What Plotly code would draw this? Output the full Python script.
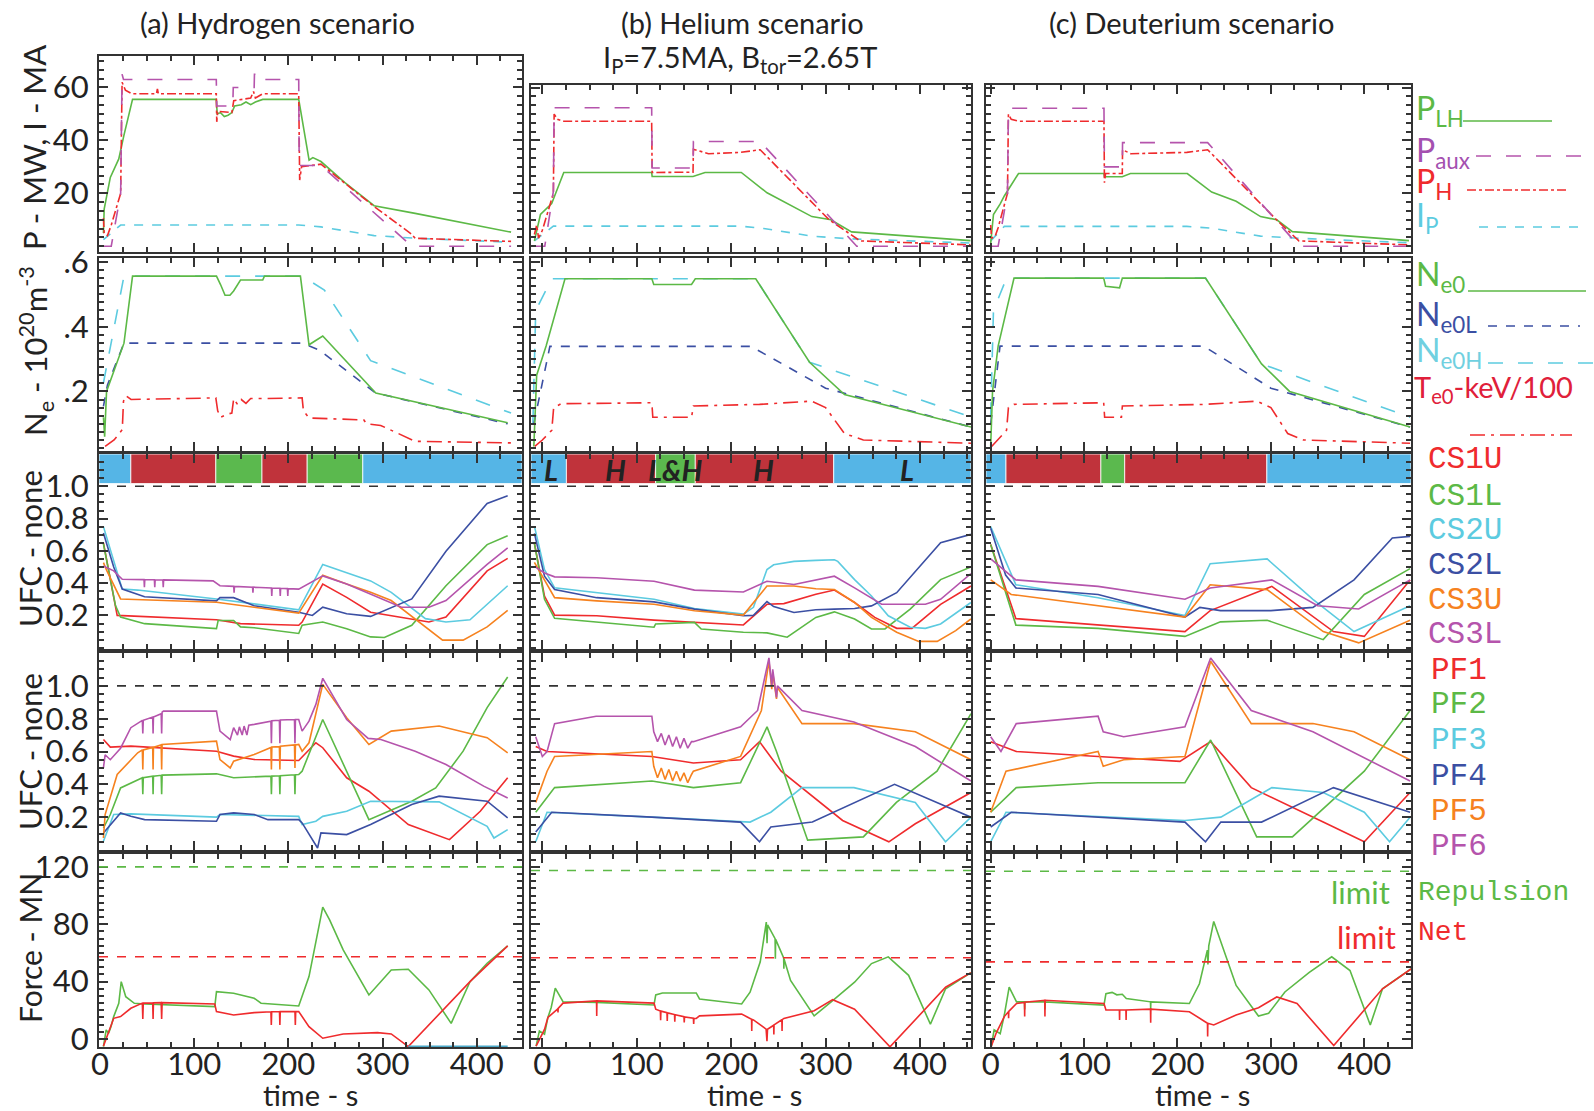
import plotly.graph_objects as go

# ---------------- DATA (time s, value) ----------------
# Row 1: power / current
A_PLH = [(3.7,5),(4.5,14),(11,26),(20,33),(25.5,42),(34.6,55.5),(123.5,55.5),(124.5,50),(128,50.5),(132,49),(136,49.5),(140,50.5),(143,53),(150,53.5),(155,54.5),(160,53.5),(165,54.5),(172.8,55.5),(211,55.5),(216,45),(222,32.5),(226,33.5),(234.6,32),(260,24),(291,15.3),(334.6,12.4),(436.4,5.3)]
A_PAUX = [(3.7,0),(12,0),(22,20),(23.5,65),(25,63),(123.5,63),(124,53),(141,53),(141.5,60),(163.7,60),(164,65),(172.8,65),(173,63),(211,63),(211.5,30.5),(234.6,30.5),(331,0),(436.4,0)]
A_PH = [(3.7,10.6),(4.5,5),(8,4),(12,8),(22,20),(23.5,62),(27,59),(34,57.6),(60,57.6),(61,59.5),(62,57.6),(123.5,57.6),(124,47),(125,51),(140,50.5),(142,55),(160,56),(163,58.5),(165,56),(172.8,57.6),(211,57.6),(212,25),(214,30),(222,30.5),(234.6,31),(291,15),(331,4.5),(334.6,3),(436.4,1.8)]
A_IP = [(3.7,2.5),(22,8),(211,8),(234.6,7.3),(291,4),(334.6,3),(436.4,1.5)]

B_PLH = [(-8.4,2),(-2,12),(9.9,16.1),(22.7,27.9),(115.8,27.9),(116.3,26.4),(159.6,26.4),(172.3,27.9),(210.7,27.9),(238,20.2),(285.5,11.2),(305.6,10),(327.5,5.4),(453.4,2.1)]
B_PAUX = [(-8.4,0),(2.6,0),(11.7,20.8),(12.5,52.4),(115.8,52.4),(116.3,29.6),(159.6,29.6),(160,39.6),(230.7,39.6),(333,0),(453.4,0)]
B_PH = [(-8.4,4.4),(-6,8),(-4,3),(0,6),(11.7,20),(12.5,50),(16,48),(22.7,47.3),(115.8,47.3),(116.3,27.9),(159.6,28),(160,36.7),(176,35),(210,35.5),(230.7,36.5),(303.7,10),(336.6,2),(453.4,0.5)]
B_IP = [(-8.4,2),(11.7,7.6),(210,7.6),(234.4,6.7),(285.5,3.8),(325.6,2.8),(453.4,1.2)]

C_PLH = [(0,1),(3,12),(10.2,16),(14.6,19),(29.8,27.5),(121.3,27.5),(121.8,26.3),(140.9,26.3),(149.6,27.5),(210.5,27.5),(236.6,20.5),(262.8,17),(288.9,11.2),(306.3,10),(323,5.5),(447.8,2.1)]
C_PAUX = [(0,0),(8,0),(18,20),(19,52.2),(121.3,52.2),(121.8,30),(140.9,30),(141.2,39.2),(232.3,39.2),(330,0),(447.8,0)]
C_PH = [(0,8),(1,3),(5,4),(8,7),(18,20),(19,50),(22,48),(29.8,47.3),(121.3,47.3),(121.8,24),(123,27.5),(140.9,27.5),(141.2,36.5),(150,35),(210,35.5),(232.3,36.5),(306,10),(330,2),(447.8,0.5)]
C_IP = [(0,2),(14.6,7.5),(210,7.5),(236.6,6.8),(288.9,3.8),(330,3),(447.8,1.3)]

# Row 2: density / temperature
A_NE0 = [(3.7,0.12),(5,0.06),(7,0.2),(25.5,0.349),(34.6,0.556),(123.7,0.556),(128,0.53),(132.8,0.497),(138,0.497),(141.9,0.51),(149.2,0.544),(172.8,0.544),(174.6,0.556),(212.8,0.556),(221.9,0.344),(236.5,0.371),(292.8,0.195),(432.8,0.103)]
A_NE0L = [(3.7,0.154),(8,0.22),(25.5,0.349),(214.6,0.349),(232.8,0.328),(292.8,0.195),(432.8,0.1)]
A_NE0H = [(3.7,0.226),(25.5,0.556),(214.6,0.556),(238.2,0.513),(287.3,0.295),(436.4,0.133)]
A_TE0 = [(5.5,0.03),(15,0.05),(23.7,0.082),(25,0.17),(27.4,0.187),(33,0.175),(123,0.18),(125,0.14),(128,0.12),(135,0.13),(140,0.133),(142,0.178),(146,0.16),(150,0.175),(155,0.163),(160,0.178),(172,0.178),(214.6,0.18),(216,0.14),(222,0.118),(280,0.112),(283,0.1),(298,0.095),(334.6,0.046),(436.4,0.041)]

B_NE0 = [(-9,0.03),(-6,0.25),(4,0.34),(24,0.548),(116,0.548),(118,0.53),(158,0.53),(162,0.548),(226,0.548),(283,0.29),(320,0.19),(454,0.09)]
B_NE0L = [(-9,0.1),(8,0.339),(221,0.339),(300,0.21),(454,0.09)]
B_NE0H = [(-10,0.1),(-7,0.45),(10,0.548),(226,0.548),(283,0.29),(454,0.121)]
B_TE0 = [(-8,0.03),(0,0.05),(10,0.08),(12,0.15),(20,0.162),(116,0.165),(117,0.12),(158,0.12),(160,0.155),(230,0.16),(285,0.17),(300,0.15),(320,0.07),(340,0.05),(454,0.04)]

C_NE0 = [(0,0.03),(2,0.2),(8,0.34),(25,0.55),(121,0.55),(123,0.525),(138,0.52),(141,0.55),(230,0.55),(290,0.285),(320,0.2),(449,0.09)]
C_NE0L = [(0,0.1),(10,0.34),(228,0.34),(300,0.21),(449,0.09)]
C_NE0H = [(0,0.12),(3,0.45),(17,0.55),(230,0.55),(290,0.285),(449,0.12)]
C_TE0 = [(1,0.03),(10,0.06),(17,0.08),(19,0.15),(25,0.16),(121,0.165),(122,0.12),(140,0.12),(141,0.155),(230,0.16),(285,0.17),(300,0.15),(318,0.07),(335,0.05),(449,0.04)]

# Row 3: CS coils UFC
A_CS1U = [(3.7,0.649),(18.3,0.2),(123.7,0.173),(149.2,0.149),(211,0.139),(214.6,0.159),(236.5,0.394),(261.9,0.312),(287.3,0.22),(349.2,0.159),(367.3,0.19),(411,0.476),(432.8,0.553)]
A_CS1L = [(3.7,0.643),(16.5,0.261),(21.9,0.19),(47.4,0.149),(123.7,0.118),(125.5,0.169),(141.9,0.169),(149.2,0.129),(163.7,0.124),(211,0.088),(214.6,0.139),(236.5,0.159),(261.9,0.118),(287.3,0.067),(301.9,0.063),(331,0.139),(367.3,0.384),(411,0.639),(432.8,0.694)]
A_CS2U = [(3.7,0.75),(23.7,0.363),(40.1,0.357),(123.7,0.302),(211,0.235),(236.5,0.516),(261.9,0.465),(287.3,0.414),(309.2,0.343),(345.5,0.18),(367.3,0.159),(392.8,0.173),(432.8,0.384)]
A_CS2L = [(3.7,0.71),(14.6,0.5),(23.7,0.363),(47.4,0.316),(123.7,0.29),(127.4,0.31),(141.9,0.31),(163.7,0.26),(211,0.22),(225.5,0.2),(236.5,0.251),(261.9,0.21),(287.3,0.194),(331,0.302),(367.3,0.598),(411,0.894),(432.8,0.941)]
A_CS3U = [(3.7,0.527),(7.4,0.476),(21.9,0.302),(123.7,0.282),(211,0.214),(236.5,0.449),(261.9,0.394),(287.3,0.343),(309.2,0.292),(334.6,0.18),(363.7,0.047),(385.5,0.047),(411,0.129),(432.8,0.231)]
A_CS3L = [(3.7,0.506),(14.6,0.476),(23.7,0.424),(46.8,0.422),(47.2,0.375),(47.6,0.422),(57.8,0.421),(58.2,0.375),(58.6,0.421),(66.8,0.42),(67.2,0.375),(67.6,0.42),(120.1,0.414),(127.4,0.384),(142,0.38),(142.4,0.34),(142.8,0.38),(162,0.375),(162.4,0.34),(162.8,0.375),(182,0.37),(182.4,0.32),(182.8,0.37),(191,0.368),(191.4,0.32),(191.8,0.368),(199,0.366),(199.4,0.32),(199.8,0.366),(211,0.363),(236.5,0.445),(261.9,0.394),(287.3,0.333),(320,0.251),(349.2,0.251),(367.3,0.292),(411,0.516),(432.8,0.618)]

B_CS1U = [(-8.4,0.647),(2.3,0.32),(13,0.202),(57.6,0.198),(118.3,0.171),(161.1,0.157),(212.9,0.141),(237.9,0.269),(255.8,0.273),(289.7,0.331),(309.3,0.357),(330.7,0.28),(352.1,0.188),(375.3,0.12),(391.4,0.12),(421.8,0.269),(453.9,0.382)]
B_CS1L = [(-8.4,0.647),(2.3,0.3),(13,0.182),(57.6,0.157),(118.3,0.127),(120,0.147),(161.1,0.157),(168.3,0.116),(212.9,0.096),(237.9,0.092),(259.3,0.065),(289.7,0.188),(309.3,0.222),(330.7,0.178),(348.6,0.116),(362.9,0.116),(389.6,0.239),(421.8,0.422),(453.9,0.5)]
B_CS2U = [(-8.4,0.753),(2.3,0.484),(13,0.371),(57.6,0.341),(118.3,0.3),(161.1,0.243),(212.9,0.208),(223.6,0.25),(237.9,0.484),(245,0.514),(266.5,0.535),(289.7,0.541),(309.3,0.545),(312.9,0.535),(330.7,0.422),(348.6,0.32),(366.4,0.198),(389.6,0.127),(405.7,0.12),(421.8,0.147),(453.9,0.28)]
B_CS2L = [(-8.4,0.708),(2.3,0.443),(13,0.361),(57.6,0.31),(118.3,0.284),(161.1,0.239),(212.9,0.198),(223.6,0.2),(237.9,0.286),(245,0.255),(266.5,0.218),(289.7,0.235),(309.3,0.239),(330.7,0.243),(348.6,0.259),(375.3,0.341),(421.8,0.651),(453.9,0.702)]
B_CS3U = [(-8.4,0.529),(13,0.31),(57.6,0.29),(118.3,0.269),(161.1,0.229),(212.9,0.202),(237.9,0.382),(266.5,0.382),(289.7,0.365),(309.3,0.361),(330.7,0.28),(348.6,0.188),(375.3,0.096),(398.6,0.039),(418.2,0.039),(437.8,0.106),(453.9,0.178)]
B_CS3L = [(-8.4,0.504),(2.3,0.463),(13,0.439),(57.6,0.433),(118.3,0.412),(161.1,0.357),(212.9,0.345),(237.9,0.412),(266.5,0.392),(289.7,0.418),(309.3,0.443),(330.7,0.371),(359.3,0.269),(405.7,0.269),(421.8,0.3),(453.9,0.459)]

C_CS1U = [(0,0.64),(27,0.18),(208,0.1),(235,0.23),(301,0.38),(367,0.1),(400,0.07),(449,0.42)]
C_CS1L = [(0,0.64),(27,0.14),(115,0.12),(208,0.07),(246,0.16),(296,0.17),(356,0.05),(400,0.33),(449,0.49)]
C_CS2U = [(0,0.75),(27,0.39),(115,0.31),(208,0.2),(235,0.52),(296,0.55),(345,0.3),(389,0.1),(449,0.26)]
C_CS2L = [(0,0.74),(16,0.45),(27,0.37),(115,0.33),(208,0.19),(224,0.25),(246,0.23),(300,0.23),(345,0.25),(389,0.42),(430,0.68),(449,0.69)]
C_CS3U = [(0,0.42),(22,0.33),(208,0.19),(235,0.39),(296,0.36),(356,0.1),(394,0.03),(449,0.17)]
C_CS3L = [(0,0.55),(27,0.42),(115,0.38),(208,0.3),(235,0.37),(301,0.42),(350,0.26),(394,0.24),(449,0.42)]

# Row 4: PF coils UFC
A_PF1 = [(3.7,0.673),(11,0.627),(32.8,0.633),(123.7,0.602),(141.9,0.572),(163.7,0.551),(211,0.545),(229.2,0.653),(236.5,0.623),(261.9,0.44),(285.5,0.358),(327.3,0.155),(371,0.063),(403.7,0.236),(432.8,0.44)]
A_PF2 = [(3.7,0.134),(11,0.216),(21.9,0.378),(45,0.44),(45.5,0.34),(46,0.44),(56,0.45),(56.4,0.34),(56.8,0.45),(65,0.455),(65.5,0.34),(66,0.456),(123.7,0.464),(141.9,0.44),(181.5,0.45),(182,0.34),(182.5,0.45),(190.5,0.452),(191,0.34),(191.5,0.452),(206.5,0.458),(207,0.34),(207.5,0.458),(211,0.46),(214.6,0.48),(236.5,0.795),(285.5,0.185),(331,0.297),(356.4,0.378),(385.5,0.602),(411,0.867),(432.8,1.054)]
A_PF3 = [(3.7,0.053),(14.6,0.216),(32.8,0.22),(123.7,0.2),(127.4,0.216),(211,0.205),(214.6,0.155),(229.2,0.175),(236.5,0.205),(261.9,0.236),(287.3,0.297),(360,0.293),(411,0.144),(418.2,0.073),(432.8,0.124)]
A_PF4 = [(3.7,0.104),(21.9,0.226),(32.8,0.205),(47.4,0.185),(123.7,0.175),(127.4,0.216),(141.9,0.226),(163.7,0.216),(178.3,0.185),(211,0.185),(214.6,0.165),(231,0.012),(234.6,0.104),(261.9,0.094),(287.3,0.155),(331,0.277),(360,0.328),(411,0.297),(432.8,0.195)]
A_PF5 = [(3.7,0.073),(5.5,0.216),(18.3,0.46),(40.1,0.592),(45,0.61),(45.5,0.49),(46,0.61),(56,0.625),(56.4,0.49),(56.8,0.625),(65,0.64),(65.5,0.49),(66,0.643),(123.7,0.663),(127.4,0.551),(138.3,0.5),(141.9,0.541),(163.7,0.582),(181.5,0.625),(182,0.49),(182.5,0.627),(190.5,0.63),(191,0.49),(191.5,0.632),(206.5,0.64),(207,0.5),(207.5,0.64),(211,0.643),(214.6,0.602),(221.9,0.653),(236.5,1.009),(261.9,0.806),(285.5,0.643),(309.2,0.724),(360,0.755),(411,0.684),(432.8,0.592)]
A_PF6 = [(3.7,0.5),(5.5,0.58),(11,0.55),(21.9,0.62),(32.8,0.745),(45,0.79),(45.5,0.71),(46,0.79),(56,0.81),(56.4,0.71),(56.8,0.81),(65,0.83),(65.5,0.71),(66,0.84),(67.4,0.846),(123.7,0.846),(127.4,0.724),(138.3,0.673),(141.9,0.745),(146,0.70),(148,0.75),(151,0.70),(153,0.755),(156,0.70),(158,0.76),(163.7,0.765),(181.5,0.785),(182,0.65),(182.5,0.787),(190.5,0.79),(191,0.65),(191.5,0.792),(206.5,0.795),(207,0.65),(207.5,0.795),(211,0.795),(214.6,0.724),(221.9,0.785),(229.2,0.887),(236.5,1.046),(261.9,0.795),(284.7,0.68),(298.2,0.673),(334.6,0.602),(367.3,0.521),(407.3,0.389),(432.8,0.317)]

B_PF1 = [(-7,0.63),(5,0.6),(116,0.57),(160,0.53),(210,0.55),(230,0.66),(253,0.48),(318,0.18),(367,0.05),(395,0.16),(454,0.35)]
B_PF2 = [(-7,0.23),(13,0.38),(116,0.42),(160,0.38),(210,0.41),(238,0.75),(248,0.6),(281,0.06),(340,0.08),(375,0.29),(418,0.48),(454,0.83)]
B_PF3 = [(-7,0.05),(5,0.23),(116,0.2),(220,0.17),(242,0.23),(275,0.38),(330,0.38),(395,0.29),(427,0.05),(454,0.2)]
B_PF4 = [(-7,0.11),(10,0.23),(116,0.2),(210,0.17),(230,0.05),(242,0.14),(286,0.17),(373,0.4),(454,0.2)]
B_PF5 = [(-7,0.29),(5,0.48),(13,0.57),(116,0.6),(118,0.51),(122,0.44),(126,0.5),(130,0.43),(134,0.49),(138,0.42),(142,0.48),(146,0.42),(150,0.47),(154,0.41),(158,0.46),(160,0.48),(210,0.57),(232,0.85),(240,1.15),(243,0.98),(244,1.08),(248,0.92),(249,0.99),(275,0.77),(330,0.77),(395,0.72),(454,0.55)]
B_PF6 = [(-7,0.69),(0,0.57),(5,0.6),(13,0.77),(57,0.815),(116,0.815),(118,0.72),(122,0.66),(126,0.71),(130,0.64),(134,0.7),(138,0.63),(142,0.69),(146,0.62),(150,0.68),(154,0.62),(158,0.66),(160,0.66),(210,0.75),(228,0.85),(240,1.17),(243,1.0),(244,1.1),(248,0.93),(249,1.0),(275,0.85),(330,0.78),(395,0.63),(454,0.42)]

C_PF1 = [(0,0.66),(27.4,0.6),(115,0.57),(202.6,0.54),(235.5,0.66),(279,0.38),(356,0.17),(400,0.05),(449,0.35)]
C_PF2 = [(0,0.23),(27.4,0.38),(115,0.41),(208,0.41),(235.5,0.67),(284.8,0.08),(323,0.08),(400,0.48),(449,0.85)]
C_PF3 = [(0,0.05),(16.4,0.23),(208,0.18),(246.4,0.2),(301,0.38),(356,0.35),(400,0.23),(427,0.05),(449,0.2)]
C_PF4 = [(0,0.14),(22,0.23),(208,0.17),(230,0.05),(246.4,0.17),(290,0.17),(367,0.38),(449,0.23)]
C_PF5 = [(0,0.23),(16.4,0.48),(115,0.6),(120.5,0.51),(142.4,0.55),(208,0.57),(235.5,1.15),(279,0.77),(345,0.77),(389,0.72),(449,0.55)]
C_PF6 = [(0,0.69),(11,0.6),(27.4,0.77),(115,0.815),(120.5,0.72),(142.4,0.69),(208,0.75),(235.5,1.17),(279,0.85),(345,0.72),(449,0.42)]

# Row 5: forces (MN)
A_REP = [(3.7,-5.3),(6.6,6.3),(9.2,4),(11.7,8.6),(14.6,15.6),(20,24.9),(22.6,40),(27.4,29.5),(36.5,24.9),(47.4,24.4),(121.9,22.6),(123.7,33),(141.9,31.9),(163.7,28.4),(171,24.9),(211,23),(221.9,43.5),(236.5,91.9),(243.8,83),(258.2,62.1),(285.5,30.7),(309.2,48.1),(327.3,48.6),(349.2,34.2),(372.8,10.9),(392.8,40),(411,52.8),(432.8,64.9)]
A_NET = [(3.7,-5),(11,8.6),(14.6,14.4),(21.9,15.6),(32.8,21.4),(45,25),(45.5,14),(46,25),(56,25.2),(56.4,14),(56.8,25.2),(65,25.3),(65.5,14),(66,25.3),(121.9,24.4),(123.7,19.1),(141.9,16.7),(163.7,18.4),(181.5,19),(181.9,9.8),(182.3,19),(190.6,19.1),(191,9.8),(191.4,19.1),(207,19.1),(207.4,9.8),(207.8,19.1),(211,19.1),(221.9,8.6),(236.5,0.5),(258.2,3.5),(294.6,4.4),(309.2,3.5),(327.3,-5.3),(392.8,40),(432.8,64.9)]
A_BASE = [(327.3,-5.3),(432.8,-5.3)]
B_REP = [(-6.6,-5),(-3.1,5.6),(2.3,3.3),(5.9,15),(9.4,22),(13.7,35.4),(21.9,26),(57.6,25.5),(118.3,23.7),(120.1,30.7),(127.2,32.1),(163,32.1),(166.5,27.9),(211.1,24.4),(220,32.6),(230.8,53.8),(237.2,81.5),(238,66.7),(238.6,79.5),(246.5,70),(246.8,56),(247.1,69.5),(255.6,56.5),(255.8,49),(256,55.8),(262.9,40.8),(287.9,16.1),(307.5,26.7),(330.7,39.6),(348.6,52.6),(366.4,57.3),(387.9,44.4),(411,10.3),(427.1,35),(453.9,46.2)]
B_NET = [(-6.6,-5),(2.3,6.7),(5.9,15),(13.7,19.7),(16.4,21),(16.6,18.5),(16.8,21.3),(21.9,25),(57.4,26.6),(57.6,16),(57.8,26.6),(118.3,25),(120.1,20.8),(125,19.5),(125.3,13),(125.6,19.4),(132,18.3),(132.3,12.5),(132.6,18.2),(140,17),(140.3,12),(140.6,16.9),(150,15.5),(150.3,11.5),(150.6,15.4),(160,14.5),(160.3,10.5),(160.6,14.4),(163,14.3),(166.5,16.1),(211.1,17.3),(221.6,13.8),(221.8,5.6),(222,13.7),(223.6,13.3),(237,6.9),(237.9,-1.5),(238.5,6.8),(245,9.6),(245.2,3.2),(245.4,9.8),(253.7,13.4),(253.9,5.6),(254.1,13.5),(255.8,14.3),(287.9,19.7),(307.5,27.4),(330.7,20.8),(368.2,-5.5),(427.1,36.1),(453.9,46.2)]
C_REP = [(0.7,-5),(3.7,6.4),(10.2,3.7),(14.6,16.7),(19.8,36.2),(27.7,25.9),(36.2,25.9),(36.4,20.5),(36.6,25.9),(57.9,25.9),(58.1,20.5),(58.3,25.9),(121.3,23.6),(123.4,31.6),(130,32.5),(135,30.8),(140.9,31.2),(145.2,28.2),(171.1,25.9),(171.3,21),(171.5,25.9),(212.7,24.7),(223.5,38.5),(232,62),(232.6,52),(233.5,65),(238.8,82),(262.8,37.3),(286.7,16),(297.6,17.9),(315,32.8),(341.1,46.5),(365.1,57.3),(384.7,47.7),(406.4,9.8),(419.5,35),(450,48.8)]
C_NET = [(0.7,-5),(5.9,4.1),(14.6,15.6),(19,19),(19.2,14.5),(19.4,19.2),(27.7,24.7),(36.2,25.5),(36.4,15.6),(36.6,25.6),(57.9,27),(58.1,15.6),(58.3,27),(121.3,24.7),(123.4,20.2),(137.8,20.2),(138,13.3),(138.2,20.2),(144.8,20.2),(145,13.3),(145.2,20.2),(171.1,20.8),(171.3,11.4),(171.5,20.8),(212.7,19),(232.1,11),(232.3,1.8),(232.5,11),(238.8,9.8),(262.8,16.7),(286.7,21.8),(306.3,29.3),(328,24.7),(367.3,-4.6),(419.5,35),(450,48.8)]
REP_LIMIT = [120, 117.5, 117]
NET_LIMIT = [57.3, 56.6, 53.8]

# Operating-mode strips (start, end, mode)
A_MODES = [(-1,32.8,'L'),(32.8,123,'H'),(123,172,'LH'),(172,220,'H'),(220,279,'LH'),(279,448,'L')]
B_MODES = [(-12,25.5,'L'),(25.5,120,'H'),(120,162,'LH'),(162,308.6,'H'),(308.6,454,'L')]
C_MODES = [(-5,16.4,'L'),(16.4,118,'H'),(118,143.5,'LH'),(143.5,295.7,'H'),(295.7,450,'L')]
B_MODE_LABELS = [(9,'L'),(77,'H'),(141,'L&H'),(234,'H'),(386,'L')]

COLUMN_TITLES = ['(a) Hydrogen scenario', '(b) Helium scenario', '(c) Deuterium scenario']
X_TICKS = [0, 100, 200, 300, 400]

# ---------------- STYLE / LAYOUT ----------------
W, H = 1594, 1111
FONT = "Lato, 'DejaVu Sans', sans-serif"
MONO = "'Liberation Mono', 'DejaVu Sans Mono', monospace"
GREEN = '#5cb946'; PURPLE = '#b554ac'; RED = '#ef2b2d'; CYAN = '#5ccbe0'
BLUE = '#3b4fa3'; ORANGE = '#f6821f'
STRIP = {'L': '#55b5e6', 'H': '#c0333b', 'LH': '#5bb94e'}
TXT = '#222222'

COL_PX = [(99, 522), (531, 971), (986, 1411)]
ROW_PX = [(56, 252), (258, 451), (454, 649), (653, 850), (854, 1047)]
ROW1_BC_TOP = 85
XR = [(-1, 448), (-12, 454), (-5, 450)]
YR = [(-2.2, 71.9), (0.016, 0.612), (-0.008, 1.2), (0.0, 1.2), (-5.6, 129)]
YR_1BC = (-2.2, 61)
Y_TICKS = [([20, 40, 60], ['20', '40', '60'], 20/6),
           ([0.2, 0.4, 0.6], ['.2', '.4', '.6'], 0.025),
           ([0.2, 0.4, 0.6, 0.8, 1.0], ['0.2', '0.4', '0.6', '0.8', '1.0'], 0.05),
           ([0.2, 0.4, 0.6, 0.8, 1.0], ['0.2', '0.4', '0.6', '0.8', '1.0'], 0.05),
           ([0, 40, 80, 120], ['0', '40', '80', '120'], 5)]

fig = go.Figure()
layout = dict(width=W, height=H, margin=dict(l=0, r=0, t=0, b=0, autoexpand=False),
              paper_bgcolor='white', plot_bgcolor='white', showlegend=False)
shapes = []
annotations = []


def ax_name(k, axis):
    return axis if k == 1 else f'{axis}{k}'


for r in range(5):
    for c in range(3):
        k = r * 3 + c + 1
        x0, x1 = COL_PX[c]
        y0, y1 = ROW_PX[r]
        if r == 0 and c > 0:
            y0 = ROW1_BC_TOP
        common = dict(showline=True, linecolor='#333', linewidth=2, mirror='ticks',
                      ticks='inside', ticklen=9, tickwidth=1.5, tickcolor='#333',
                      showgrid=False, zeroline=False, automargin=False,
                      tickfont=dict(family=FONT, size=31, color=TXT))
        xa = dict(common, domain=[x0 / W, x1 / W], range=list(XR[c]),
                  anchor=ax_name(k, 'y'), tickmode='array', tickvals=X_TICKS,
                  ticktext=[str(v) for v in X_TICKS], showticklabels=(r == 4),
                  ticklabelstandoff=-11,
                  minor=dict(ticks='inside', ticklen=5, tickcolor='#333', dtick=25, tick0=0))
        yr = YR_1BC if (r == 0 and c > 0) else YR[r]
        tv, tt, md = Y_TICKS[r]
        ya = dict(common, domain=[1 - y1 / H, 1 - y0 / H], range=list(yr),
                  anchor=ax_name(k, 'x'), tickmode='array', tickvals=tv, ticktext=tt,
                  showticklabels=(c == 0), ticklabelstandoff=2,
                  minor=dict(ticks='inside', ticklen=5, tickcolor='#333', dtick=md, tick0=0))
        layout['xaxis' if k == 1 else f'xaxis{k}'] = xa
        layout['yaxis' if k == 1 else f'yaxis{k}'] = ya


def add_line(r, c, pts, color, dash='solid', width=1.6):
    k = r * 3 + c + 1
    fig.add_trace(go.Scatter(x=[p[0] for p in pts], y=[p[1] for p in pts], mode='lines',
                             line=dict(color=color, dash=dash, width=width),
                             xaxis=ax_name(k, 'x'), yaxis=ax_name(k, 'y'),
                             hoverinfo='skip', showlegend=False))


cols = [
    dict(PLH=A_PLH, PAUX=A_PAUX, PH=A_PH, IP=A_IP, NE0=A_NE0, NE0L=A_NE0L, NE0H=A_NE0H, TE0=A_TE0,
         CS=[A_CS1U, A_CS1L, A_CS2U, A_CS2L, A_CS3U, A_CS3L],
         PF=[A_PF1, A_PF2, A_PF3, A_PF4, A_PF5, A_PF6], REP=A_REP, NET=A_NET, MODES=A_MODES),
    dict(PLH=B_PLH, PAUX=B_PAUX, PH=B_PH, IP=B_IP, NE0=B_NE0, NE0L=B_NE0L, NE0H=B_NE0H, TE0=B_TE0,
         CS=[B_CS1U, B_CS1L, B_CS2U, B_CS2L, B_CS3U, B_CS3L],
         PF=[B_PF1, B_PF2, B_PF3, B_PF4, B_PF5, B_PF6], REP=B_REP, NET=B_NET, MODES=B_MODES),
    dict(PLH=C_PLH, PAUX=C_PAUX, PH=C_PH, IP=C_IP, NE0=C_NE0, NE0L=C_NE0L, NE0H=C_NE0H, TE0=C_TE0,
         CS=[C_CS1U, C_CS1L, C_CS2U, C_CS2L, C_CS3U, C_CS3L],
         PF=[C_PF1, C_PF2, C_PF3, C_PF4, C_PF5, C_PF6], REP=C_REP, NET=C_NET, MODES=C_MODES),
]
COIL_COLORS = [RED, GREEN, CYAN, BLUE, ORANGE, PURPLE]

for c, d in enumerate(cols):
    add_line(0, c, d['IP'], CYAN, 'dash')
    add_line(0, c, d['PLH'], GREEN)
    add_line(0, c, d['PH'], RED, 'dashdot')
    add_line(0, c, d['PAUX'], PURPLE, 'longdash')
    add_line(1, c, d['NE0H'], CYAN, 'longdash')
    add_line(1, c, d['NE0L'], BLUE, 'dash')
    add_line(1, c, d['NE0'], GREEN)
    add_line(1, c, d['TE0'], RED, 'longdashdot')
    for pts, col in zip(d['CS'], COIL_COLORS):
        add_line(2, c, pts, col)
    for pts, col in zip(d['PF'], COIL_COLORS):
        add_line(3, c, pts, col)
    add_line(4, c, d['REP'], GREEN)
    add_line(4, c, d['NET'], RED)
    for r, yv, col in [(2, 1.0, '#333'), (3, 1.0, '#333'), (4, REP_LIMIT[c], GREEN), (4, NET_LIMIT[c], RED)]:
        k = r * 3 + c + 1
        shapes.append(dict(type='line', xref=ax_name(k, 'x') + ' domain', x0=0, x1=1,
                           yref=ax_name(k, 'y'), y0=yv, y1=yv,
                           line=dict(color=col, width=1.6, dash='dash')))
    k = 2 * 3 + c + 1
    for (s, e, m) in d['MODES']:
        shapes.append(dict(type='rect', xref=ax_name(k, 'x'), yref=ax_name(k, 'y'),
                           x0=s, x1=e, y0=1.017, y1=1.2, fillcolor=STRIP[m],
                           line=dict(color='white', width=0.8), layer='below'))

add_line(4, 0, A_BASE, '#4aa8c8', width=2)

for (t, lab) in B_MODE_LABELS:
    annotations.append(dict(x=t, y=1.105, xref='x8', yref='y8', text=f'<b><i>{lab}</i></b>',
                            showarrow=False, font=dict(family=FONT, size=29, color=TXT)))


def ptext(x, y, text, size, color=TXT, family=FONT, xanchor='center', angle=0):
    annotations.append(dict(x=x / W, y=1 - y / H, xref='paper', yref='paper', text=text,
                            showarrow=False, xanchor=xanchor, yanchor='middle',
                            textangle=angle, font=dict(family=family, size=size, color=color)))


def pline(x0, x1, y, color, dash):
    shapes.append(dict(type='line', xref='paper', yref='paper', x0=x0 / W, x1=x1 / W,
                       y0=1 - y / H, y1=1 - y / H, line=dict(color=color, width=1.6, dash=dash)))


# Titles
ptext(277, 22, COLUMN_TITLES[0], 29)
ptext(742, 22, COLUMN_TITLES[1], 29)
ptext(740, 58, 'I<sub>P</sub>=7.5MA, B<sub>tor</sub>=2.65T', 29)
ptext(1191, 22, COLUMN_TITLES[2], 29)

# Y-axis titles
ptext(34, 148, 'P - MW, I - MA', 31, angle=-90)
ptext(36, 351, 'N<sub>e</sub> - 10<sup>20</sup>m<sup>-3</sup>', 31, angle=-90)
ptext(30, 549, 'UFC - none', 31, angle=-90)
ptext(30, 752, 'UFC - none', 31, angle=-90)
ptext(30, 948, 'Force - MN', 30, angle=-90)
for xc in (310, 754, 1202):
    ptext(xc, 1094, 'time - s', 29)

# Right-hand legends
ptext(1414, 110, 'P<sub>LH</sub>', 32, GREEN, xanchor='left'); pline(1463, 1552, 121, GREEN, 'solid')
ptext(1414, 152, 'P<sub>aux</sub>', 32, '#a450b0', xanchor='left'); pline(1476, 1584, 156, PURPLE, 'longdash')
ptext(1414, 183, 'P<sub>H</sub>', 32, RED, xanchor='left'); pline(1467, 1566, 190, RED, 'dashdot')
ptext(1414, 217, 'I<sub>P</sub>', 32, CYAN, xanchor='left'); pline(1479, 1578, 227, CYAN, 'dash')
ptext(1414, 276, 'N<sub>e0</sub>', 32, GREEN, xanchor='left'); pline(1468, 1586, 291, GREEN, 'solid')
ptext(1414, 316, 'N<sub>e0L</sub>', 32, BLUE, xanchor='left'); pline(1488, 1580, 326, BLUE, 'dash')
ptext(1414, 352, 'N<sub>e0H</sub>', 32, '#70d0e0', xanchor='left'); pline(1488, 1594, 363, CYAN, 'longdash')
ptext(1412, 388, 'T<sub>e0</sub>-keV/100', 29, '#e0203a', xanchor='left'); pline(1470, 1572, 435, RED, 'longdashdot')

for i, (lab, col) in enumerate(zip(['CS1U', 'CS1L', 'CS2U', 'CS2L', 'CS3U', 'CS3L'], COIL_COLORS)):
    ptext(1426, [460, 496, 530, 565, 600, 634][i], lab, 31, col, family=MONO, xanchor='left')
for i, (lab, col) in enumerate(zip(['PF1', 'PF2', 'PF3', 'PF4', 'PF5', 'PF6'], COIL_COLORS)):
    ptext(1429, [670, 704, 740, 777, 811, 846][i], lab, 31, col, family=MONO, xanchor='left')
ptext(1416, 892, 'Repulsion', 28, GREEN, family=MONO, xanchor='left')
ptext(1416, 932, 'Net', 28, RED, family=MONO, xanchor='left')
ptext(1392, 892, 'limit', 31, GREEN, xanchor='right')
ptext(1398, 937, 'limit', 31, RED, xanchor='right')

layout['shapes'] = shapes
layout['annotations'] = annotations
fig.update_layout(**layout)
fig.write_html('out.html')
